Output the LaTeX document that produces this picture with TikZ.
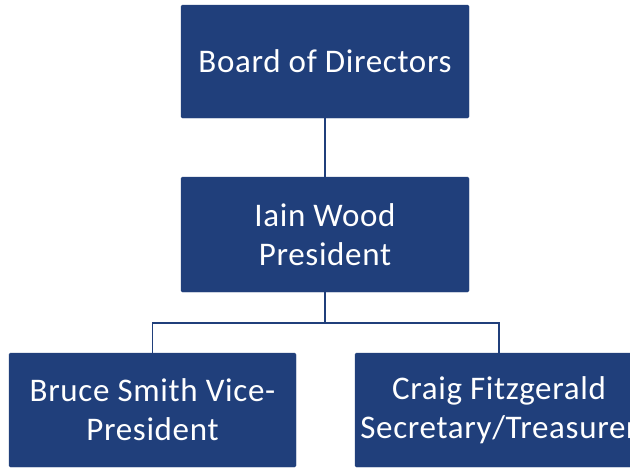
\documentclass[tikz,border=0pt]{standalone}
\usepackage{fontspec}
\setmainfont{Carlito}[LetterSpace=2]
\definecolor{boxblue}{HTML}{203F7B}
\begin{document}
\begin{tikzpicture}[x=1pt,y=-1pt,
  orgbox/.style={draw=boxblue,fill=boxblue,rounded corners=1.5pt,text=white,
    align=center,inner sep=0pt,font=\fontsize{33}{39}\selectfont},
  link/.style={draw=boxblue,line width=1.4pt}]
\useasboundingbox (0,0) rectangle (630,472);
\node[orgbox,minimum width=288pt,minimum height=113pt] (board) at (325,61.5) {Board of Directors};
\node[orgbox,minimum width=288pt,minimum height=115pt] (pres) at (325,234.5) {Iain Wood\\President};
\node[orgbox,minimum width=287pt,minimum height=114pt] (vp) at (152.5,410) {Bruce Smith Vice-\\President};
\node[orgbox,minimum width=288pt,minimum height=114pt] (sec) at (499,410) {Craig Fitzgerald\\Secretary/Treasurer};
\coordinate (mid) at (325,323);
\draw[link] (board.south) -- (pres.north);
\draw[link] (pres.south) -- (mid);
\draw[link] (mid) -| (vp.north);
\draw[link] (mid) -| (sec.north);
\end{tikzpicture}
\end{document}
